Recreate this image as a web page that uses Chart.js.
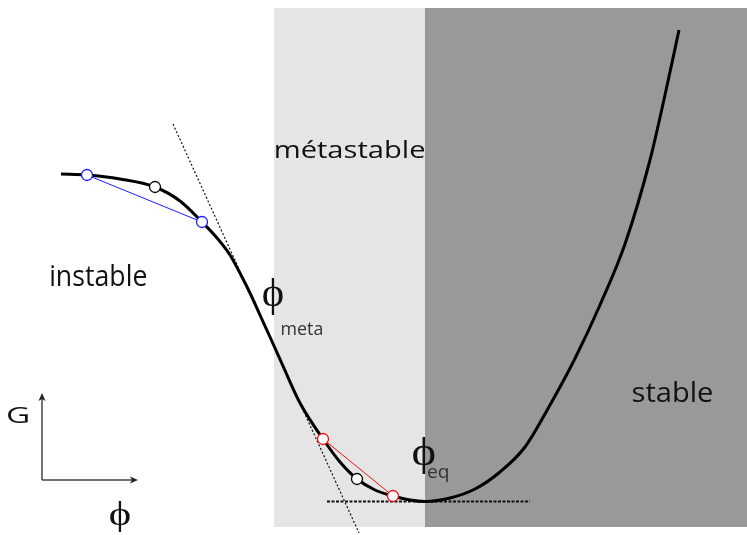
<!DOCTYPE html>
<html>
<head>
<meta charset="utf-8">
<script src="https://cdn.jsdelivr.net/npm/chart.js@4/dist/chart.umd.min.js"></script>
<style>
  html, body { margin: 0; padding: 0; background: #ffffff; }
  #wrap { width: 747px; height: 535px; }
</style>
</head>
<body>
<div id="wrap"><canvas id="c" width="747" height="535"></canvas></div>
<script>
// ---- data (phi, G) ----
const curvePhi = [61, 87, 120, 155, 180, 202, 217, 230, 242, 250, 260, 270, 283, 300, 323, 340, 357, 375, 393, 410, 425, 450, 475, 500, 525, 550, 575, 600, 625, 650, 665, 679];
const curveG   = [361, 360, 356, 348, 334, 313, 297, 280, 258, 242, 220, 198, 169, 132, 96, 73, 56, 45, 39, 35, 33.5, 37, 46, 63, 88, 130, 176.5, 230, 291, 375, 440, 505];

const bluePhi = [87, 202];
const blueG   = [360, 313];
const redPhi  = [323, 393];
const redG    = [96, 39];
const midPhi  = [155, 357];
const midG    = [348, 56];

const tangentPhi = [173, 359];
const tangentG   = [411, 2];
const eqLinePhi  = [327, 530];
const eqLineG    = [33.5, 33.5];

const regionBounds = [274, 425, 747];     // metastable | stable
const regionG      = [8, 527];

const axisOriginPhi = 42, axisOriginG = 55, axisEndPhi = 138, axisEndG = 142;

// labels: text, box left/right (phi), box top/bottom (G)
const labelTexts = ['métastable', 'instable', 'stable', 'G', 'ϕ', 'ϕ', 'meta', 'ϕ', 'eq'];
const labelBoxes = [
  [276, 424, 396, 377],
  [51, 146, 272, 249],
  [633, 712, 154, 133],
  [8, 28, 128, 112],
  [110, 130, 33, 3],
  [263, 283, 257, 220],
  [282, 322, 212, 200],
  [413, 435, 98, 62],
  [428, 448, 67, 52]
];
const labelStyle = [
  ['Open Sans', '#111'], ['Open Sans', '#111'], ['Open Sans', '#111'], ['Open Sans', '#111'],
  ['Liberation Serif', '#111'], ['Liberation Serif', '#111'], ['Open Sans', '#333'],
  ['Liberation Serif', '#111'], ['Open Sans', '#333']
];

const pts = (xs, ys) => xs.map((v, i) => ({x: v, y: ys[i]}));

const regionPlugin = {
  id: 'regions',
  beforeDatasetsDraw(chart) {
    const {ctx, scales: {x, y}} = chart;
    const colors = ['#e5e5e5', '#999999'];
    ctx.save();
    for (let i = 0; i < regionBounds.length - 1; i++) {
      const x0 = x.getPixelForValue(regionBounds[i]);
      const x1 = x.getPixelForValue(regionBounds[i + 1]);
      const y0 = y.getPixelForValue(regionG[1]);
      const y1 = y.getPixelForValue(regionG[0]);
      ctx.fillStyle = colors[i];
      ctx.fillRect(x0, y0, x1 - x0, y1 - y0);
    }
    ctx.restore();
  }
};

const overlayPlugin = {
  id: 'overlay',
  afterDatasetsDraw(chart) {
    const {ctx, scales: {x, y}} = chart;
    ctx.save();
    // small axes with arrows
    const ox = x.getPixelForValue(axisOriginPhi), oy = y.getPixelForValue(axisOriginG);
    const ex = x.getPixelForValue(axisEndPhi), ey = y.getPixelForValue(axisEndG);
    ctx.strokeStyle = '#444'; ctx.fillStyle = '#222'; ctx.lineWidth = 1.5;
    ctx.beginPath(); ctx.moveTo(ox, oy); ctx.lineTo(ox, ey + 5); ctx.stroke();
    ctx.beginPath(); ctx.moveTo(ox, oy); ctx.lineTo(ex - 5, oy); ctx.stroke();
    ctx.beginPath(); ctx.moveTo(ox, ey); ctx.lineTo(ox - 3.5, ey + 8); ctx.lineTo(ox, ey + 6); ctx.lineTo(ox + 3.5, ey + 8); ctx.closePath(); ctx.fill();
    ctx.beginPath(); ctx.moveTo(ex, oy); ctx.lineTo(ex - 8, oy - 3.5); ctx.lineTo(ex - 6, oy); ctx.lineTo(ex - 8, oy + 3.5); ctx.closePath(); ctx.fill();

    // labels fitted into boxes
    labelTexts.forEach((t, i) => {
      const [l, r, gt, gb] = labelBoxes[i];
      const [fam, col] = labelStyle[i];
      const px0 = x.getPixelForValue(l), px1 = x.getPixelForValue(r);
      const py0 = y.getPixelForValue(gt), py1 = y.getPixelForValue(gb);
      ctx.font = '100px "' + fam + '"';
      const m = ctx.measureText(t);
      const asc = m.actualBoundingBoxAscent, desc = m.actualBoundingBoxDescent;
      const L = m.actualBoundingBoxLeft, R = m.actualBoundingBoxRight;
      const size = 100 * (py1 - py0) / (asc + desc);
      const k = size / 100;
      const sx = (px1 - px0) / ((L + R) * k);
      ctx.save();
      ctx.translate(px0, py0);
      ctx.scale(sx, 1);
      ctx.font = size.toFixed(2) + 'px "' + fam + '"';
      ctx.fillStyle = col;
      ctx.textBaseline = 'alphabetic';
      ctx.textAlign = 'left';
      ctx.fillText(t, L * k, asc * k);
      ctx.restore();
    });
    ctx.restore();
  }
};

new Chart(document.getElementById('c'), {
  type: 'scatter',
  data: {
    datasets: [
      { data: pts(midPhi, midG), showLine: false, pointRadius: 5.5, pointBorderWidth: 1.3,
        pointBackgroundColor: '#ffffff', pointBorderColor: '#000000', order: 1 },
      { data: pts(bluePhi, blueG), showLine: true, borderColor: '#1a1aff', borderWidth: 1,
        pointRadius: 5.5, pointBorderWidth: 1.3, pointBackgroundColor: '#ffffff', pointBorderColor: '#1a1aff', order: 2 },
      { data: pts(redPhi, redG), showLine: true, borderColor: '#ee1111', borderWidth: 1,
        pointRadius: 5.5, pointBorderWidth: 1.3, pointBackgroundColor: '#ffffff', pointBorderColor: '#ee1111', order: 2 },
      { data: pts(curvePhi, curveG), showLine: true, borderColor: '#000000', borderWidth: 3,
        pointRadius: 0, cubicInterpolationMode: 'monotone', order: 4 },
      { data: pts(tangentPhi, tangentG), showLine: true, borderColor: '#111', borderWidth: 1.2,
        borderDash: [2, 2], pointRadius: 0, order: 5 },
      { data: pts(eqLinePhi, eqLineG), showLine: true, borderColor: '#111', borderWidth: 2,
        borderDash: [3, 1.5], pointRadius: 0, order: 5 }
    ]
  },
  options: {
    responsive: false,
    animation: false,
    devicePixelRatio: 1,
    layout: { padding: 0, autoPadding: false },
    plugins: { legend: { display: false }, tooltip: { enabled: false } },
    scales: {
      x: { type: 'linear', min: 0, max: 747, display: false },
      y: { type: 'linear', min: 0, max: 535, display: false }
    }
  },
  plugins: [regionPlugin, overlayPlugin]
});
</script>
</body>
</html>
